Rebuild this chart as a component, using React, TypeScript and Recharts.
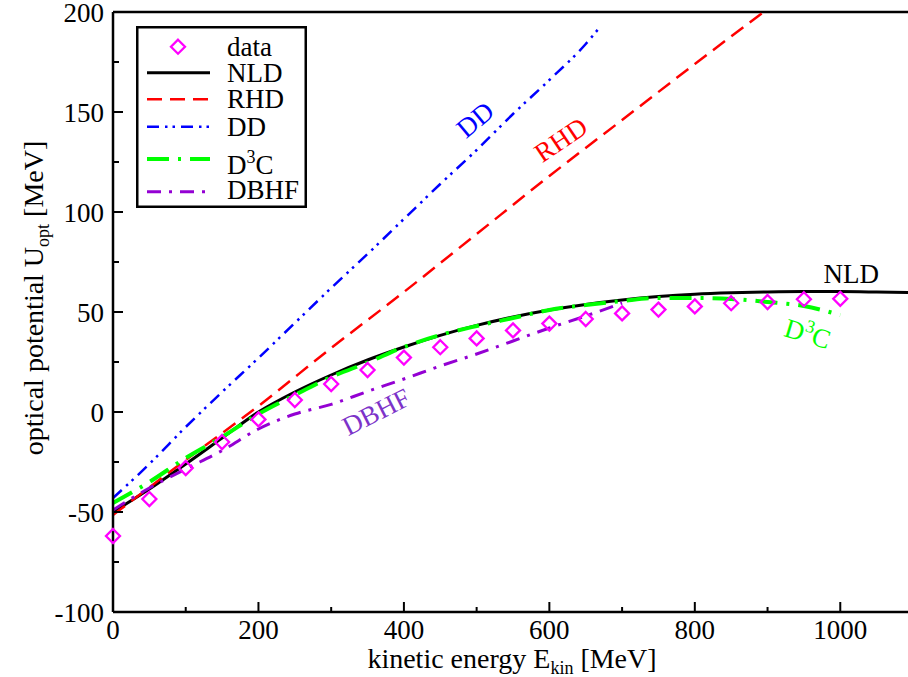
import React from 'react';
import { ComposedChart, Line, Scatter, XAxis, YAxis, ReferenceLine, ReferenceDot, Legend, Label } from 'recharts';

const FONT = '"Liberation Serif", "Times New Roman", Times, serif';

// measured optical potential, E_kin in MeV
const dataEnergy = [0, 50, 100, 150, 200, 250, 300, 350, 400, 450, 500, 550, 600, 650, 700, 750, 800, 850, 900, 950, 1000];
const dataU = [-62, -43.5, -28, -15, -3.7, 6, 14, 21, 27.2, 32.4, 36.8, 40.8, 44.2, 46.5, 49.3, 51.2, 52.8, 54.4, 55, 56.4, 56.6];

// model curves
const nldEnergy = [0, 50, 100, 150, 200, 250, 300, 350, 400, 450, 500, 550, 600, 650, 700, 750, 800, 850, 900, 950, 1000, 1050, 1100];
const nldU = [-50, -38.5, -26, -13, 0, 10, 18.5, 26, 32.5, 38.3, 43.3, 47.5, 51, 53.8, 56, 57.7, 58.9, 59.6, 60, 60.2, 60.2, 60, 59.7];

const rhdEnergy = [0, 100, 200, 300, 400, 500, 600, 700, 800, 900];
const rhdU = [-51.5, -24, 3, 32, 60, 89, 118, 146, 174, 201.5];

const ddEnergy = [0, 50, 100, 150, 200, 250, 300, 350, 400, 450, 500, 550, 600, 650, 670];
const ddU = [-43, -26, -7.5, 10, 27, 44.5, 62, 79, 96.5, 114, 131, 149, 166, 184, 192.7];

const d3cEnergy = [0, 50, 100, 150, 200, 250, 300, 350, 400, 450, 500, 550, 600, 650, 700, 750, 800, 850, 900, 950, 1000];
const d3cU = [-45.5, -35, -23, -12.5, -1, 8.5, 17.5, 24.7, 32.5, 38.5, 43, 47, 51, 53.5, 55.5, 57, 57, 56.5, 55, 53, 48.5];

const dbhfEnergy = [0, 50, 100, 150, 200, 250, 300, 350, 400, 450, 500, 550, 600, 650, 700];
const dbhfU = [-49, -38, -28.5, -19.3, -8.5, -1, 3.8, 10.3, 16.5, 23, 29, 35.5, 42, 48, 54.5];

const xTicks = [0, 100, 200, 300, 400, 500, 600, 700, 800, 900, 1000, 1100];
const yTicks = [-100, -75, -50, -25, 0, 25, 50, 75, 100, 125, 150, 175, 200];

const toPoints = (xs: number[], ys: number[]) => xs.map((e, i) => ({ e, u: ys[i] }));

const curves = [
  { name: 'NLD', points: toPoints(nldEnergy, nldU), color: '#000000', width: 3, dash: undefined as string | undefined },
  { name: 'RHD', points: toPoints(rhdEnergy, rhdU), color: '#ff0000', width: 2.5, dash: '15 8' },
  { name: 'DD', points: toPoints(ddEnergy, ddU), color: '#0000ff', width: 2.5, dash: '12 6 2.5 5 2.5 6' },
  { name: 'D3C', points: toPoints(d3cEnergy, d3cU), color: '#00ff00', width: 4, dash: '22 9 3 9' },
  { name: 'DBHF', points: toPoints(dbhfEnergy, dbhfU), color: '#9400d3', width: 3, dash: '14 8 3 8' },
];

// curve annotations inside the frame
const curveLabels = [
  { text: 'NLD', e: 1015, u: 69, angle: 0, color: '#000000' },
  { text: 'RHD', e: 616, u: 136, angle: -34, color: '#ff0000' },
  { text: 'DD', e: 498, u: 146, angle: -40, color: '#0000ff' },
  { text: 'DBHF', e: 362, u: 0, angle: -27, color: '#7d33c9' },
  { text: 'D3C', e: 955, u: 39, angle: 17, color: '#00ff00' },
];

const Diamond = ({ cx, cy, size = 7 }: { cx: number; cy: number; size?: number }) => (
  <polygon
    points={`${cx},${cy - size} ${cx + size},${cy} ${cx},${cy + size} ${cx - size},${cy}`}
    fill="none"
    stroke="#ff00ff"
    strokeWidth={2.3}
  />
);

const renderName = (text: string) =>
  text === 'D3C' ? (
    <>
      D<tspan dy={-11} fontSize={18}>3</tspan>
      <tspan dy={11}>C</tspan>
    </>
  ) : (
    text
  );

const XTick = (props: any) => {
  const { x, y, payload } = props;
  const v = payload.value;
  const major = v % 200 === 0;
  return (
    <g>
      <line x1={x} x2={x} y1={y} y2={y - (major ? 10 : 5)} stroke="#000" strokeWidth={2} />
      {major && v <= 1000 && (
        <text x={x} y={y + 27} textAnchor="middle" fontFamily={FONT} fontSize={27} fill="#000">
          {v}
        </text>
      )}
    </g>
  );
};

const YTick = (props: any) => {
  const { x, y, payload } = props;
  const v = payload.value;
  const major = v % 50 === 0;
  return (
    <g>
      <line x1={x} x2={x + (major ? 10 : 6)} y1={y} y2={y} stroke="#000" strokeWidth={2} />
      {major && (
        <text x={x - 9} y={y + 9.5} textAnchor="end" fontFamily={FONT} fontSize={27} fill="#000">
          {v}
        </text>
      )}
    </g>
  );
};

// legend rows: symbol centre and text baseline inside the box
const legendRows = [
  { name: 'data', sym: 20.7, base: 29.5 },
  { name: 'NLD', sym: 46.7, base: 55.7 },
  { name: 'RHD', sym: 73.3, base: 82.3 },
  { name: 'DD', sym: 100.7, base: 110 },
  { name: 'D3C', sym: 133, base: 148 },
  { name: 'DBHF', sym: 165.7, base: 173 },
];

const LegendBox = () => (
  <svg width={171} height={182} style={{ display: 'block' }}>
    <rect x={1.25} y={1.25} width={168.5} height={179.5} fill="#fff" stroke="#000" strokeWidth={2.5} />
    {legendRows.map((row) => {
      const c = curves.find((k) => k.name === row.name);
      return (
        <g key={row.name}>
          {c ? (
            <line x1={11} x2={74} y1={row.sym} y2={row.sym} stroke={c.color} strokeWidth={c.width} strokeDasharray={c.dash} />
          ) : (
            <Diamond cx={42} cy={row.sym} />
          )}
          <text x={91} y={row.base} fontFamily={FONT} fontSize={27} fill="#000">
            {renderName(row.name)}
          </text>
        </g>
      );
    })}
  </svg>
);

export default function App() {
  return (
    <div style={{ position: 'absolute', left: 0, top: 0, width: 908, height: 677, overflow: 'hidden', background: '#fff' }}>
      <ComposedChart width={930} height={677} margin={{ top: 12, right: 17, bottom: 0, left: 0 }}>
        <XAxis
          dataKey="e"
          type="number"
          domain={[0, 1100]}
          ticks={xTicks}
          interval={0}
          height={65}
          tickSize={0}
          tickMargin={0}
          tickLine={false}
          tick={(p: any) => <XTick {...p} />}
          axisLine={{ stroke: '#000', strokeWidth: 2.5 }}
        >
          <Label
            content={() => (
              <text x={512} y={668} textAnchor="middle" fontFamily={FONT} fontSize={28} fill="#000">
                kinetic energy E<tspan dy={6} fontSize={18}>kin</tspan>
                <tspan dy={-6}> [MeV]</tspan>
              </text>
            )}
          />
        </XAxis>
        <YAxis
          type="number"
          domain={[-100, 200]}
          ticks={yTicks}
          interval={0}
          width={113}
          allowDataOverflow
          tickSize={0}
          tickMargin={0}
          tickLine={false}
          tick={(p: any) => <YTick {...p} />}
          axisLine={{ stroke: '#000', strokeWidth: 2.5 }}
        >
          <Label
            content={() => (
              <text
                x={43}
                y={298}
                textAnchor="middle"
                fontFamily={FONT}
                fontSize={28}
                fill="#000"
                transform="rotate(-90 43 298)"
              >
                optical potential U<tspan dy={6} fontSize={18}>opt</tspan>
                <tspan dy={-6}> [MeV]</tspan>
              </text>
            )}
          />
        </YAxis>
        <ReferenceLine y={200} stroke="#000" strokeWidth={2.5} ifOverflow="visible" />
        {curves.map((c) => (
          <Line
            key={c.name}
            data={c.points}
            dataKey="u"
            name={c.name}
            type="monotone"
            stroke={c.color}
            strokeWidth={c.width}
            strokeDasharray={c.dash}
            dot={false}
            activeDot={false}
            isAnimationActive={false}
          />
        ))}
        <Scatter
          data={toPoints(dataEnergy, dataU)}
          dataKey="u"
          name="data"
          isAnimationActive={false}
          shape={(p: any) => <Diamond cx={p.cx} cy={p.cy} />}
        />
        {curveLabels.map((l) => (
          <ReferenceDot
            key={l.text}
            x={l.e}
            y={l.u}
            r={0}
            shape={(p: any) => (
              <text
                x={p.cx}
                y={p.cy}
                dy="0.33em"
                textAnchor="middle"
                fontFamily={FONT}
                fontSize={27}
                fill={l.color}
                transform={`rotate(${l.angle} ${p.cx} ${p.cy})`}
              >
                {renderName(l.text)}
              </text>
            )}
          />
        ))}
        <Legend
          layout="horizontal"
          verticalAlign="middle"
          align="center"
          wrapperStyle={{ position: 'absolute', left: 136, top: 26, width: 171, height: 182 }}
          content={() => <LegendBox />}
        />
      </ComposedChart>
    </div>
  );
}
